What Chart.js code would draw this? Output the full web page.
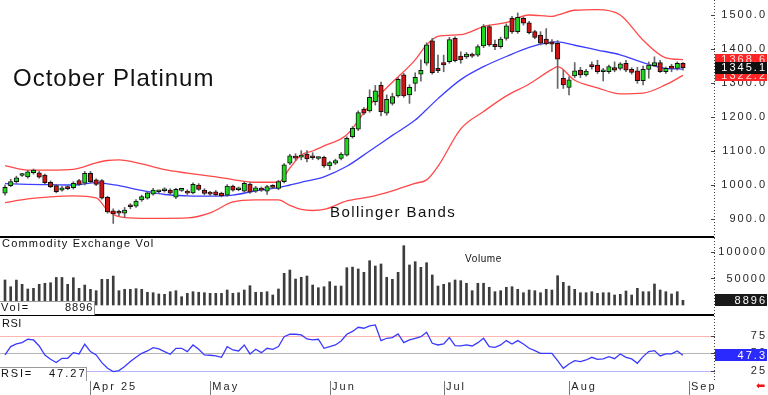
<!DOCTYPE html>
<html><head><meta charset="utf-8">
<script src="https://cdn.jsdelivr.net/npm/chart.js@4.4.1/dist/chart.umd.min.js"></script>
<style>
html,body{margin:0;padding:0;background:#fff;}
#wrap{position:relative;width:768px;height:395px;overflow:hidden;background:#fff;font-family:"Liberation Sans",Arial,sans-serif;color:#111;}
canvas{position:absolute;left:0;}
.t{position:absolute;white-space:nowrap;line-height:1;}
.box{position:absolute;left:0;background:#fff;border-top:1px solid #9a9a9a;border-right:1px solid #9a9a9a;box-sizing:border-box;}
</style></head><body>
<div id="wrap">
<canvas id="cMain" width="767" height="238" style="top:0"></canvas>
<canvas id="cVol" width="767" height="78" style="top:238px"></canvas>
<canvas id="cRsi" width="767" height="79" style="top:316px"></canvas>
<div class="t" style="left:13px;top:65.7px;font-size:24px;letter-spacing:1px;">October Platinum</div>
<div class="t" style="left:330px;top:204.3px;font-size:15px;letter-spacing:1.4px;">Bollinger Bands</div>
<div class="t" style="left:2px;top:238px;font-size:11px;letter-spacing:1.2px;">Commodity Exchange Vol</div>
<div class="t" style="left:465px;top:253.5px;font-size:10px;letter-spacing:0.6px;">Volume</div>
<div class="t" style="left:2px;top:317.7px;font-size:11px;letter-spacing:0.5px;">RSI</div>
<div class="box" style="top:301px;width:95px;height:14px;"></div>
<div class="t" style="left:1px;top:302.4px;font-size:11px;letter-spacing:1.8px;">Vol=</div>
<div class="t" id="volTxt" style="left:65px;top:302.4px;font-size:11px;letter-spacing:1px;"></div>
<div class="box" style="top:366.5px;width:87px;height:14px;"></div>
<div class="t" style="left:1px;top:367.7px;font-size:11px;letter-spacing:1.8px;">RSI=</div>
<div class="t" id="rsiTxt" style="left:49px;top:367.7px;font-size:11px;letter-spacing:2px;"></div>
<div class="t" style="left:756px;top:380px;font-size:11px;color:#ee1111;font-family:'DejaVu Sans';">&#x2B05;</div>
</div>
<script>
const opens = [976,998,1010,1028,1024,1036,1036,1029,1008,998, 985,995,992,1013,1005,1034,1015,1013,964,924, 921,917,941,938,956,961,973,980,983,985, 964,984,982,977,1000,985,977,980,976,970, 997,986,982,1003,982,990,982,997,990,1010, 1064,1083,1082,1091,1083,1078,1081,1056,1064,1078, 1088,1142,1164,1223,1218,1245,1293,1211,1240,1262, 1324,1265,1299,1326,1358,1424,1343,1360,1363,1431, 1379,1377,1384,1382,1409,1466,1414,1407,1431,1490, 1451,1490,1477,1451,1441,1429,1421,1417,1314,1287, 1321,1338,1324,1353,1353,1333,1333,1345,1343,1358, 1340,1336,1307,1340,1351,1360,1333,1350,1343,1358];
const highs = [1000,1017,1026,1034,1043,1047,1040,1032,1012,1001, 996,998,1010,1017,1040,1040,1018,1016,967,930, 926,934,945,957,970,980,990,985,992,989, 990,989,986,1006,1004,989,981,984,979,1001, 1000,994,1009,1007,996,994,999,1001,1014,1063, 1090,1092,1101,1101,1095,1083,1085,1070,1076,1095, 1142,1172,1218,1228,1280,1293,1303,1265,1270,1316, 1328,1295,1330,1368,1418,1431,1382,1382,1434,1436, 1392,1390,1388,1412,1472,1470,1426,1435,1474,1496, 1506,1494,1481,1455,1451,1460,1428,1425,1338,1318, 1360,1346,1340,1362,1367,1343,1353,1362,1360,1367, 1345,1346,1350,1362,1377,1367,1347,1355,1362,1360];
const lows = [970,995,1005,1025,1020,1032,1020,1004,992,977, 982,986,988,999,1000,1006,998,958,917,887, 910,905,930,934,952,958,970,976,979,972, 960,981,972,974,984,971,969,967,965,967, 982,983,979,975,978,981,972,989,986,1006, 1060,1072,1074,1068,1075,1074,1052,1045,1060,1074, 1085,1138,1160,1207,1214,1235,1203,1205,1235,1258, 1258,1240,1276,1305,1352,1326,1330,1333,1358,1362, 1358,1372,1375,1378,1404,1408,1398,1402,1426,1446, 1446,1470,1444,1430,1412,1412,1392,1284,1284,1265, 1316,1316,1320,1341,1328,1306,1328,1333,1338,1333, 1326,1299,1294,1314,1348,1331,1328,1333,1338,1338];
const closes = [993,1010,1021,1030,1039,1044,1023,1007,995,980, 992,989,1005,1002,1034,1010,1002,961,921,915, 917,926,936,953,966,977,985,981,987,976, 987,985,976,1002,987,975,973,971,968,997, 985,990,1005,979,992,985,995,993,1010,1059, 1086,1079,1086,1077,1080,1079,1056,1066,1072,1091, 1137,1167,1213,1211,1258,1277,1216,1252,1260,1311, 1262,1287,1317,1337,1412,1330,1336,1353,1428,1366, 1368,1385,1379,1407,1466,1412,1407,1429,1468,1450, 1493,1476,1448,1434,1417,1415,1414,1370,1294,1309, 1336,1324,1335,1348,1333,1338,1348,1338,1356,1338, 1331,1307,1340,1353,1360,1333,1343,1343,1358,1345.1];
const volumes = [47200,34500,47000,39000,30200,31500,39000,41000,42000,52000, 52000,39000,51500,31500,37700,29600,27000,48500,48500,54700, 27000,29600,29600,30800,29600,24000,23200,20800,20200,25100, 27000,15700,22000,25100,24000,23200,22000,22000,22000,28300, 22000,23200,28300,36400,24000,24000,25100,18900,30200,59800, 66000,49000,52300,54700,37700,32600,34500,44000,35800,35800, 70400,71500,68000,61700,83600,73600,77400,52300,48500,61700, 111900,75500,81700,71100,79800,56600,35800,39000,42100,47200, 45900,41000,27000,41000,41000,33400,25100,27000,33400,34500, 29600,23200,28300,27000,23200,29600,28300,55300,42800,35800, 29600,23200,23200,25100,22000,23200,23200,18900,20200,26400, 18900,31500,25100,25100,39600,28300,25100,20800,25100,8896];
const rsiValues = [47.6,59.5,63.2,65.1,69.9,68.9,60.4,47.6,41.5,36.8, 42.9,42.9,50.9,49.1,62.8,52.4,47.6,36.8,28.7,24.0, 25.4,31.1,38.2,44.3,50.0,53.3,58.0,56.1,52.4,48.6, 57.1,57.1,52.4,61.8,55.7,47.6,47.2,46.2,44.3,59.5, 54.7,53.3,61.8,49.1,55.7,50.9,57.1,55.7,59.5,73.6, 77.0,77.0,76.0,70.3,68.9,69.9,57.1,59.5,61.8,67.5, 77.0,81.0,86.9,85.5,88.8,90.2,68.0,71.3,72.2,77.4, 65.1,68.9,71.3,73.6,79.8,64.2,61.8,63.2,72.2,60.9, 60.4,61.8,60.4,65.1,71.3,59.5,58.5,61.8,68.0,63.2, 68.0,63.2,57.1,53.8,50.0,50.0,50.0,39.6,28.7,34.9, 39.6,38.2,40.5,44.3,41.5,42.0,45.3,42.4,49.1,44.3, 42.0,35.8,45.3,52.4,53.8,46.2,49.1,49.1,53.3,47.27];
const bandIdx = [0,4,8,12,16,18,20,24,28,32,36,40,44,48,50,52,54,56,60,64,68,72,74,76,80,84,88,92,96,97,100,104,108,112,116,119];
const bandUpper = [1057,1044,1044,1046,1065,1072,1074,1062,1045,1035,1026,1016,1008,1008,1050,1088,1100,1115,1148,1235,1302,1368,1412,1437,1442,1466,1478,1500,1496,1500,1514,1516,1500,1426,1374,1368.6];
const bandMid = [1004,1002,1001,1000,1007,1003,998,984,972,968,967,970,983,992,1000,1008,1015,1024,1055,1100,1146,1191,1222,1254,1310,1348,1378,1405,1420,1421,1411,1397,1383,1360,1343,1341];
const bandLower = [948,959,965,968,962,926,907,902,902,903,918,950,956,956,940,928,925,928,953,965,983,1005,1015,1055,1165,1216,1262,1297,1340,1348,1308,1286,1268,1270,1295,1322.2];
const priceTicks = [900,1000,1100,1200,1300,1400,1500];
const volTicks = [50000,100000];
const rsiTicks = [25,50,75];
const rsiLevels = [75,50,25];
const monthTickIdx = [15,36,57,77,99,120];
const monthTickLabels = ['Apr 25','May','Jun','Jul','Aug','Sep'];

const FAMILY = '"Liberation Sans", Arial, sans-serif';
const X_MIN = -0.878, X_MAX = 124.45;
const AXIS_W = 53;
const last = closes.length - 1;
const idx = closes.map((c, i) => i);

document.getElementById('volTxt').textContent = String(volumes[last]);
document.getElementById('rsiTxt').textContent = rsiValues[last].toFixed(2);

const mctx = document.createElement('canvas').getContext('2d');
function widest(labels) {
  mctx.font = 'normal 11px ' + FAMILY;
  mctx.letterSpacing = '2px';
  return Math.max(...labels.map(l => mctx.measureText(l).width));
}
const priceLabel = v => v.toFixed(1);
const noPad = s => { s.paddingTop = 0; s.paddingBottom = 0; s.paddingLeft = 0; s.paddingRight = 0; };

function yAxis(min, max, ticks, fmt) {
  return {
    position: 'right', min, max,
    afterBuildTicks: s => { s.ticks = ticks.map(v => ({value: v})); },
    afterFit: s => { s.width = AXIS_W; noPad(s); },
    grid: {display: false, drawTicks: false},
    border: {display: false},
    ticks: {callback: fmt, crossAlign: 'far', padding: AXIS_W - widest(ticks.map(fmt)),
            font: {size: 11, family: FAMILY}, color: '#262626', autoSkip: false}
  };
}

const frame = {
  id: 'frame',
  beforeLayout(chart) { chart.ctx.letterSpacing = '2px'; },
  beforeDraw(chart) { chart.ctx.letterSpacing = '2px'; },
  beforeDatasetsDraw(chart, args, o) {
    const {ctx, chartArea: a} = chart; const ys = chart.scales.y;
    (o.levels || []).forEach(l => {
      const py = Math.round(ys.getPixelForValue(l.value)) + 0.5;
      ctx.save(); ctx.strokeStyle = l.color; ctx.lineWidth = 1;
      ctx.beginPath(); ctx.moveTo(a.left, py); ctx.lineTo(a.right, py); ctx.stroke(); ctx.restore();
    });
  },
  afterDraw(chart, args, o) {
    const {ctx, chartArea: a} = chart; const ys = chart.scales.y;
    ctx.save();
    ctx.strokeStyle = '#444'; ctx.lineWidth = 1; ctx.setLineDash([1, 2]);
    ctx.beginPath(); ctx.moveTo(a.right + 0.5, a.top); ctx.lineTo(a.right + 0.5, a.bottom); ctx.stroke();
    ctx.setLineDash([]);
    ys.ticks.forEach(t => {
      const py = Math.round(ys.getPixelForValue(t.value)) + 0.5;
      ctx.beginPath(); ctx.moveTo(a.right - 3, py); ctx.lineTo(a.right + 1, py); ctx.stroke();
    });
    if (o.bottomLine != null) {
      ctx.strokeStyle = '#000'; ctx.lineWidth = 2;
      ctx.beginPath(); ctx.moveTo(0, o.bottomLine); ctx.lineTo(a.right, o.bottomLine); ctx.stroke();
    }
    if (o.months) {
      const xs = chart.scales.x;
      ctx.strokeStyle = '#777'; ctx.lineWidth = 1;
      monthTickIdx.forEach(v => {
        const px = Math.round(xs.getPixelForValue(v)) + 0.5;
        ctx.beginPath(); ctx.moveTo(px, a.bottom + 1); ctx.lineTo(px, chart.height); ctx.stroke();
      });
    }
    (o.badges || []).forEach(b => {
      const py = ys.getPixelForValue(b.value);
      ctx.fillStyle = b.bg;
      ctx.fillRect(a.right + 1, Math.round(py - 6), chart.width - a.right - 1, 12);
      ctx.fillStyle = b.fg; ctx.font = 'normal 11px ' + FAMILY;
      ctx.letterSpacing = '2px'; ctx.textAlign = 'right'; ctx.textBaseline = 'middle';
      ctx.fillText(b.text, chart.width, py + 0.5);
    });
    ctx.restore();
  }
};

const baseOpts = {responsive: false, animation: false, devicePixelRatio: 1, layout: {padding: 0, autoPadding: false}, events: []};
const hiddenX = () => ({type: 'linear', min: X_MIN, max: X_MAX, display: false, offset: false, afterFit: noPad});

const bandLine = (vals, color) => ({
  type: 'line', data: bandIdx.map((x, k) => ({x, y: vals[k]})), borderColor: color,
  borderWidth: 1.3, pointRadius: 0, cubicInterpolationMode: 'monotone', order: 3
});

new Chart(document.getElementById('cMain'), {
  type: 'bar',
  data: {datasets: [
    bandLine(bandUpper, '#ff4848'),
    bandLine(bandMid, '#3e3eff'),
    bandLine(bandLower, '#ff4848'),
    {type: 'bar', data: idx.map(i => ({x: i, y: [lows[i], highs[i]]})), backgroundColor: '#666',
     barThickness: 1, grouped: false, order: 2},
    {type: 'bar', data: idx.map(i => ({x: i, y: [Math.min(opens[i], closes[i]), Math.max(opens[i], closes[i])]})),
     backgroundColor: idx.map(i => closes[i] >= opens[i] ? '#1ed81e' : '#d01212'),
     borderColor: '#111', borderWidth: 1, borderSkipped: false, barThickness: 4.5, minBarLength: 2,
     grouped: false, order: 1}
  ]},
  options: Object.assign({}, baseOpts, {
    plugins: {legend: {display: false}, tooltip: {enabled: false},
      frame: {bottomLine: 237, badges: [
        {value: bandUpper[bandUpper.length - 1], text: bandUpper[bandUpper.length - 1].toFixed(1), bg: '#ff2424', fg: '#ffdede'},
        {value: bandLower[bandLower.length - 1], text: bandLower[bandLower.length - 1].toFixed(1), bg: '#ff2424', fg: '#ffdede'},
        {value: closes[last], text: closes[last].toFixed(1), bg: '#101010', fg: '#ffffff'}
      ]}},
    scales: {x: hiddenX(), y: yAxis(844.1, 1544.1, priceTicks, priceLabel)}
  }),
  plugins: [frame]
});

new Chart(document.getElementById('cVol'), {
  type: 'bar',
  data: {datasets: [
    {data: idx.map(i => ({x: i, y: volumes[i]})), backgroundColor: '#3d3d3d', barThickness: 2}
  ]},
  options: Object.assign({}, baseOpts, {
    plugins: {legend: {display: false}, tooltip: {enabled: false},
      frame: {bottomLine: 77, badges: [
        {value: volumes[last], text: String(volumes[last]), bg: '#1a1a1a', fg: '#ffffff'}
      ]}},
    scales: {x: hiddenX(), y: yAxis(-20755, 126415, volTicks, v => String(v))}
  }),
  plugins: [frame]
});

new Chart(document.getElementById('cRsi'), {
  type: 'line',
  data: {datasets: [
    {data: idx.map(i => ({x: i, y: rsiValues[i]})), borderColor: '#3a3aff', borderWidth: 1.3, pointRadius: 0, tension: 0}
  ]},
  options: Object.assign({}, baseOpts, {
    plugins: {legend: {display: false}, tooltip: {enabled: false},
      frame: {months: true,
        levels: [{value: rsiLevels[0], color: '#ffb4b4'}, {value: rsiLevels[1], color: '#b4b4b4'}, {value: rsiLevels[2], color: '#b4b4ff'}],
        badges: [{value: rsiValues[last], text: rsiValues[last].toFixed(1), bg: '#2a2aff', fg: '#ffffff'}]}},
    scales: {
      x: {type: 'linear', min: X_MIN, max: X_MAX, offset: false,
        afterBuildTicks: s => { s.ticks = monthTickIdx.map(v => ({value: v + 0.4})); },
        afterFit: s => { s.height = 15; noPad(s); },
        grid: {display: false, drawTicks: false}, border: {display: false},
        ticks: {autoSkip: false, maxRotation: 0, minRotation: 0, align: 'start', padding: 0,
          font: {size: 11, family: FAMILY}, color: '#262626', callback: (v, i) => monthTickLabels[i]}},
      y: yAxis(12.1, 102.9, rsiTicks, v => String(v))
    }
  }),
  plugins: [frame]
});
</script>
</body></html>
